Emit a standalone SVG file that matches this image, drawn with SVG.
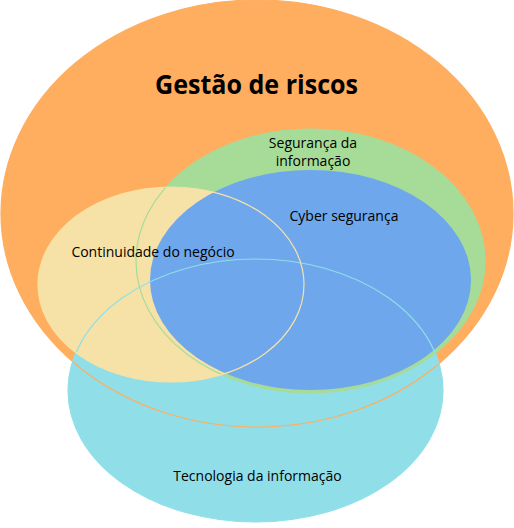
<svg xmlns="http://www.w3.org/2000/svg" width="514" height="528" viewBox="0 0 514 528">
<style>
.t{font-family:"Open Sans","Noto Sans","DejaVu Sans",sans-serif;fill:#000;text-anchor:middle;font-size:14px}
.big{font-size:27px;font-weight:bold}
.o{fill:none;stroke-width:1.2}
</style>
<rect width="514" height="528" fill="#fff"/>
<g id="fills">
<ellipse id="f-gestao" cx="257" cy="213.5" rx="256" ry="213.5" fill="#FFAD5E"/>
<ellipse id="f-ti" cx="255.5" cy="390.5" rx="187.5" ry="131.5" fill="#90DFE8"/>
<ellipse id="f-seg" cx="310.5" cy="261" rx="174.5" ry="132" fill="#A6DC98"/>
<ellipse id="f-cont" cx="171" cy="284.5" rx="133" ry="97.5" fill="#F6E2A6"/>
<ellipse id="f-cyber" cx="310.5" cy="280" rx="160.5" ry="110" fill="#6EA7EC"/>
</g>
<g id="outlines">
<ellipse cx="257" cy="213.5" rx="256" ry="213.5" class="o" stroke="#FFAD5E"/>
<ellipse cx="255.5" cy="390.5" rx="187.5" ry="131.5" class="o" stroke="#90DFE8"/>
<ellipse cx="310.5" cy="261" rx="174.5" ry="132" class="o" stroke="#A6DC98"/>
<ellipse cx="171" cy="284.5" rx="133" ry="97.5" class="o" stroke="#F6E2A6"/>
</g>
<g id="labels">
<text class="t big" x="256.5" y="94" textLength="203" lengthAdjust="spacingAndGlyphs">Gestão de riscos</text>
<text class="t" x="313" y="148">Segurança da</text>
<text class="t" x="313" y="166">informação</text>
<text class="t" x="344" y="220.5">Cyber segurança</text>
<text class="t" x="153" y="256.5">Continuidade do negócio</text>
<text class="t" x="257.5" y="480.5">Tecnologia da informação</text>
</g>
</svg>
